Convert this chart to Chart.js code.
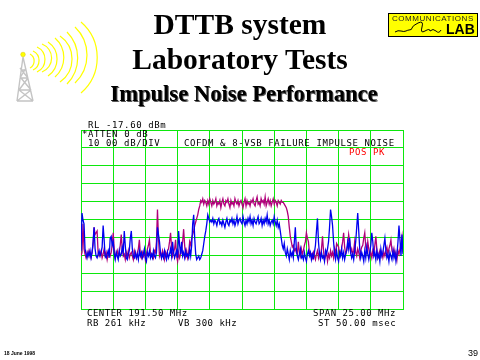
<!DOCTYPE html>
<html><head><meta charset="utf-8">
<style>
html,body{margin:0;padding:0;background:#fff;width:480px;height:360px;overflow:hidden}
#wrap{position:relative;width:480px;height:360px}
canvas{position:absolute;left:0;top:0}
svg{position:absolute;left:0;top:0}
.t{position:absolute;white-space:pre;font-family:"Liberation Serif",serif;font-weight:bold;color:#000;transform:translateX(-50%);line-height:1}
.m{position:absolute;white-space:pre;font-family:"DejaVu Sans Mono",monospace;font-size:9px;line-height:1;color:#000;letter-spacing:.6px}
.b{letter-spacing:.5px}
</style></head><body>
<div id="wrap">
<canvas id="c" width="480" height="360"></canvas>
<svg width="480" height="360" id="art">
  <g fill="none" stroke="#ffff00" stroke-width="1.2">
    <path d="M30 54A8 8 0 0 1 30 68"/><path d="M33 51A10.5 10.5 0 0 1 33 70"/>
    <path d="M37 47A13.8 13.8 0 0 1 37 72"/><path d="M42 44A15 15 0 0 1 42 72"/>
    <path d="M48 42A20.5 20.5 0 0 1 48 76"/><path d="M55 38A26 26 0 0 1 55 77"/>
    <path d="M60 36A28 28 0 0 1 60 82"/><path d="M67 32A37 37 0 0 1 67 84"/>
    <path d="M75 27A38.7 38.7 0 0 1 75 83"/><path d="M81 22A47 47 0 0 1 81 93"/>
  </g>
  <g fill="none" stroke="#c4c4c4" stroke-width="1.4">
    <path d="M23 57L17 101M23 57L33 101M21 70L26 70M20 78L28 78M19 90L31 90M17 101L33 101M28 78L20 68M20 78L26 68M19 90L28 78M31 90L21 78M17 101L31 90M33 101L19 90"/>
  </g>
  <circle cx="23" cy="54.5" r="2.3" fill="#ffff00" stroke="#d8c800" stroke-width=".5"/>
  <rect x="388.5" y="13.5" width="89" height="23" fill="#ffff00" stroke="#000"/>
  <path d="M395 32q3-2 6-1t5 0t3-1q3 0 3-2t6-5t4 4t3 4t5 0q3-3 6 0t5-1" fill="none" stroke="#000" stroke-width="1"/>
</svg>
<div class="t" style="left:240px;top:10px;font-size:29.5px">DTTB system</div>
<div class="t" style="left:240px;top:45px;font-size:29.5px">Laboratory Tests</div>
<div class="t" style="left:244px;top:83px;font-size:22.6px;text-shadow:1px 1px 0 #555">Impulse Noise Performance</div>
<div class="m" style="left:392px;top:15px;font-family:'Liberation Sans';font-size:8px;letter-spacing:.55px;color:#222">COMMUNICATIONS</div>
<div class="m" style="left:446px;top:22px;font-family:'Liberation Sans';font-weight:bold;font-size:14px;letter-spacing:0">LAB</div>
<div class="m" style="left:88px;top:121px">RL -17.60 dBm</div>
<div class="m" style="left:82px;top:130px">*ATTEN 0 dB</div>
<div class="m" style="left:88px;top:139px">10 00 dB/DIV</div>
<div class="m" style="left:184px;top:139px">COFDM &amp; 8-VSB FAILURE IMPULSE NOISE</div>
<div class="m" style="left:349px;top:148px;color:#f00">POS PK</div>
<div class="m b" style="left:87px;top:309px">CENTER 191.50 MHz</div>
<div class="m b" style="left:313px;top:309px">SPAN 25.00 MHz</div>
<div class="m b" style="left:87px;top:319px">RB 261 kHz</div>
<div class="m b" style="left:178px;top:319px">VB 300 kHz</div>
<div class="m" style="left:318px;top:319px">ST 50.00 msec</div>
<div class="m" style="left:4px;top:351px;font-family:'Liberation Sans';font-weight:bold;font-size:5px;letter-spacing:0">18 June 1998</div>
<div class="m" style="left:468px;top:349px;font-family:'Liberation Sans';font-size:9px;letter-spacing:0">39</div>
</div>
<script src="https://cdn.jsdelivr.net/npm/chart.js@4"></script>
<script>
const centerMHz = 191.5;
const spanMHz = 25;
const refLevel = -17.6;
const dbPerDiv = 10;
const blueTrace = [
-85,-64,-68,-70,-84,-87,-89,-86,-88,-85,
-89,-86,-80,-72,-84,-88,-89,-87,-85,-88,
-86,-83,-71,-79,-88,-89,-87,-85,-89,-78,
-77,-82,-80,-87,-90,-86,-88,-90,-85,-88,
-87,-83,-86,-74,-82,-89,-90,-87,-85,-78,
-74,-84,-88,-89,-86,-89,-87,-90,-85,-88,
-86,-89,-87,-84,-89,-91,-86,-88,-85,-89,
-87,-89,-85,-88,-89,-86,-72,-76,-80,-86,
-89,-87,-89,-85,-88,-90,-86,-89,-87,-84,
-88,-80,-86,-89,-87,-85,-89,-74,-82,-87,
-80,-88,-86,-89,-85,-88,-87,-89,-84,-88,
-82,-70,-65,-78,-87,-90,-89,-88,-90,-89,
-87,-85,-81,-77,-74,-70,-65,-67,-69,-68,
-69,-67,-70,-68,-69,-71,-68,-67,-70,-69,
-71,-68,-70,-72,-69,-67,-70,-71,-68,-69,
-67,-70,-68,-71,-69,-66,-70,-68,-67,-69,
-70,-66,-69,-71,-68,-70,-67,-69,-66,-70,
-68,-71,-67,-69,-70,-68,-66,-70,-69,-67,
-71,-68,-70,-67,-69,-65,-70,-68,-71,-69,
-68,-70,-66,-69,-71,-68,-72,-70,-74,-78,
-82,-84,-81,-86,-88,-84,-87,-90,-85,-88,
-86,-89,-80,-72,-84,-88,-90,-87,-84,-89,
-88,-90,-86,-89,-91,-87,-85,-88,-86,-90,
-87,-89,-86,-82,-74,-67,-80,-87,-90,-86,
-89,-88,-91,-85,-87,-84,-80,-72,-62,-66,
-71,-80,-87,-90,-85,-89,-91,-86,-88,-84,
-89,-86,-90,-87,-85,-80,-84,-78,-86,-89,
-87,-90,-85,-80,-72,-64,-74,-84,-89,-86,
-88,-91,-85,-89,-83,-87,-90,-86,-82,-75,
-80,-88,-86,-90,-85,-89,-87,-91,-84,-88,
-86,-82,-78,-85,-89,-87,-91,-86,-88,-90,
-85,-89,-86,-91,-87,-80,-71,-79,-88,-76,
-87];
const magentaTrace = [
-88,-86,-70,-84,-87,-89,-86,-88,-85,-87,
-89,-86,-82,-72,-76,-75,-74,-86,-88,-87,
-85,-89,-87,-84,-88,-86,-90,-87,-85,-88,
-86,-82,-75,-84,-89,-87,-85,-88,-86,-82,
-76,-84,-88,-87,-90,-86,-88,-85,-89,-87,
-86,-88,-90,-85,-87,-89,-86,-84,-79,-87,
-89,-86,-88,-85,-90,-87,-84,-82,-79,-86,
-88,-87,-89,-85,-86,-80,-62,-78,-88,-86,
-89,-85,-87,-90,-86,-88,-85,-84,-80,-75,
-83,-88,-86,-84,-79,-88,-91,-86,-89,-87,
-84,-80,-73,-82,-88,-85,-89,-86,-80,-82,
-78,-76,-74,-71,-69,-67,-65,-62,-60,-57,
-58,-56,-59,-57,-58,-60,-57,-59,-56,-58,
-60,-57,-59,-58,-56,-60,-58,-59,-57,-61,
-58,-56,-59,-60,-57,-58,-56,-59,-61,-57,
-59,-58,-60,-56,-58,-59,-57,-60,-58,-57,
-59,-61,-58,-56,-60,-57,-59,-58,-60,-57,
-58,-56,-59,-60,-57,-55,-59,-58,-60,-56,
-58,-57,-59,-55,-60,-58,-56,-59,-57,-60,
-58,-56,-59,-57,-58,-60,-57,-58,-59,-57,
-58,-58,-59,-60,-61,-63,-66,-72,-77,-80,
-83,-82,-85,-84,-86,-87,-80,-86,-88,-84,
-87,-85,-82,-80,-75,-78,-80,-86,-88,-87,
-89,-86,-88,-90,-87,-85,-89,-86,-88,-84,
-77,-85,-90,-88,-86,-91,-87,-89,-85,-88,
-86,-89,-84,-87,-81,-82,-83,-88,-86,-84,
-80,-75,-83,-87,-85,-82,-76,-80,-86,-84,
-87,-85,-80,-86,-88,-84,-86,-89,-85,-83,
-82,-78,-75,-83,-86,-80,-84,-88,-86,-89,
-85,-87,-82,-77,-84,-89,-87,-85,-88,-86,
-89,-86,-88,-85,-83,-87,-84,-82,-79,-85,
-87,-84,-88,-86,-90,-85,-87,-84,-81,-77,
-86];
const startMHz = centerMHz - spanMHz / 2;
const bins = blueTrace.map((_, i) => startMHz + spanMHz * i / (blueTrace.length - 1));
const gridGreen = '#0ce80c';
new Chart(document.getElementById('c'), {
  type: 'line',
  data: { labels: bins, datasets: [
    { label: 'COFDM', data: bins.map((x, i) => ({ x, y: magentaTrace[i] })), borderColor: '#b0007a', borderWidth: 1.3, pointRadius: 0, tension: 0, order: 2 },
    { label: '8-VSB', data: bins.map((x, i) => ({ x, y: blueTrace[i] })), borderColor: '#0000f0', borderWidth: 1.3, pointRadius: 0, tension: 0, order: 1 }
  ]},
  options: {
    responsive: false, animation: false, events: [],
    layout: { padding: { left: 81, right: 77, top: 130, bottom: 51 } },
    plugins: { legend: { display: false }, title: { display: false }, tooltip: { enabled: false } },
    scales: {
      x: { type: 'linear', min: startMHz, max: startMHz + spanMHz,
        afterBuildTicks: a => { a.ticks = Array.from({ length: 11 }, (_, i) => ({ value: startMHz + spanMHz * i / 10 })); },
        ticks: { display: false }, border: { color: gridGreen, width: 1 },
        grid: { color: gridGreen, lineWidth: 1, drawTicks: false } },
      y: { type: 'linear', min: refLevel - 10 * dbPerDiv, max: refLevel,
        afterBuildTicks: a => { a.ticks = Array.from({ length: 11 }, (_, i) => ({ value: refLevel - dbPerDiv * i })); },
        ticks: { display: false }, border: { color: gridGreen, width: 1 },
        grid: { color: gridGreen, lineWidth: 1, drawTicks: false } }
    }
  }
});
</script>
</body></html>
